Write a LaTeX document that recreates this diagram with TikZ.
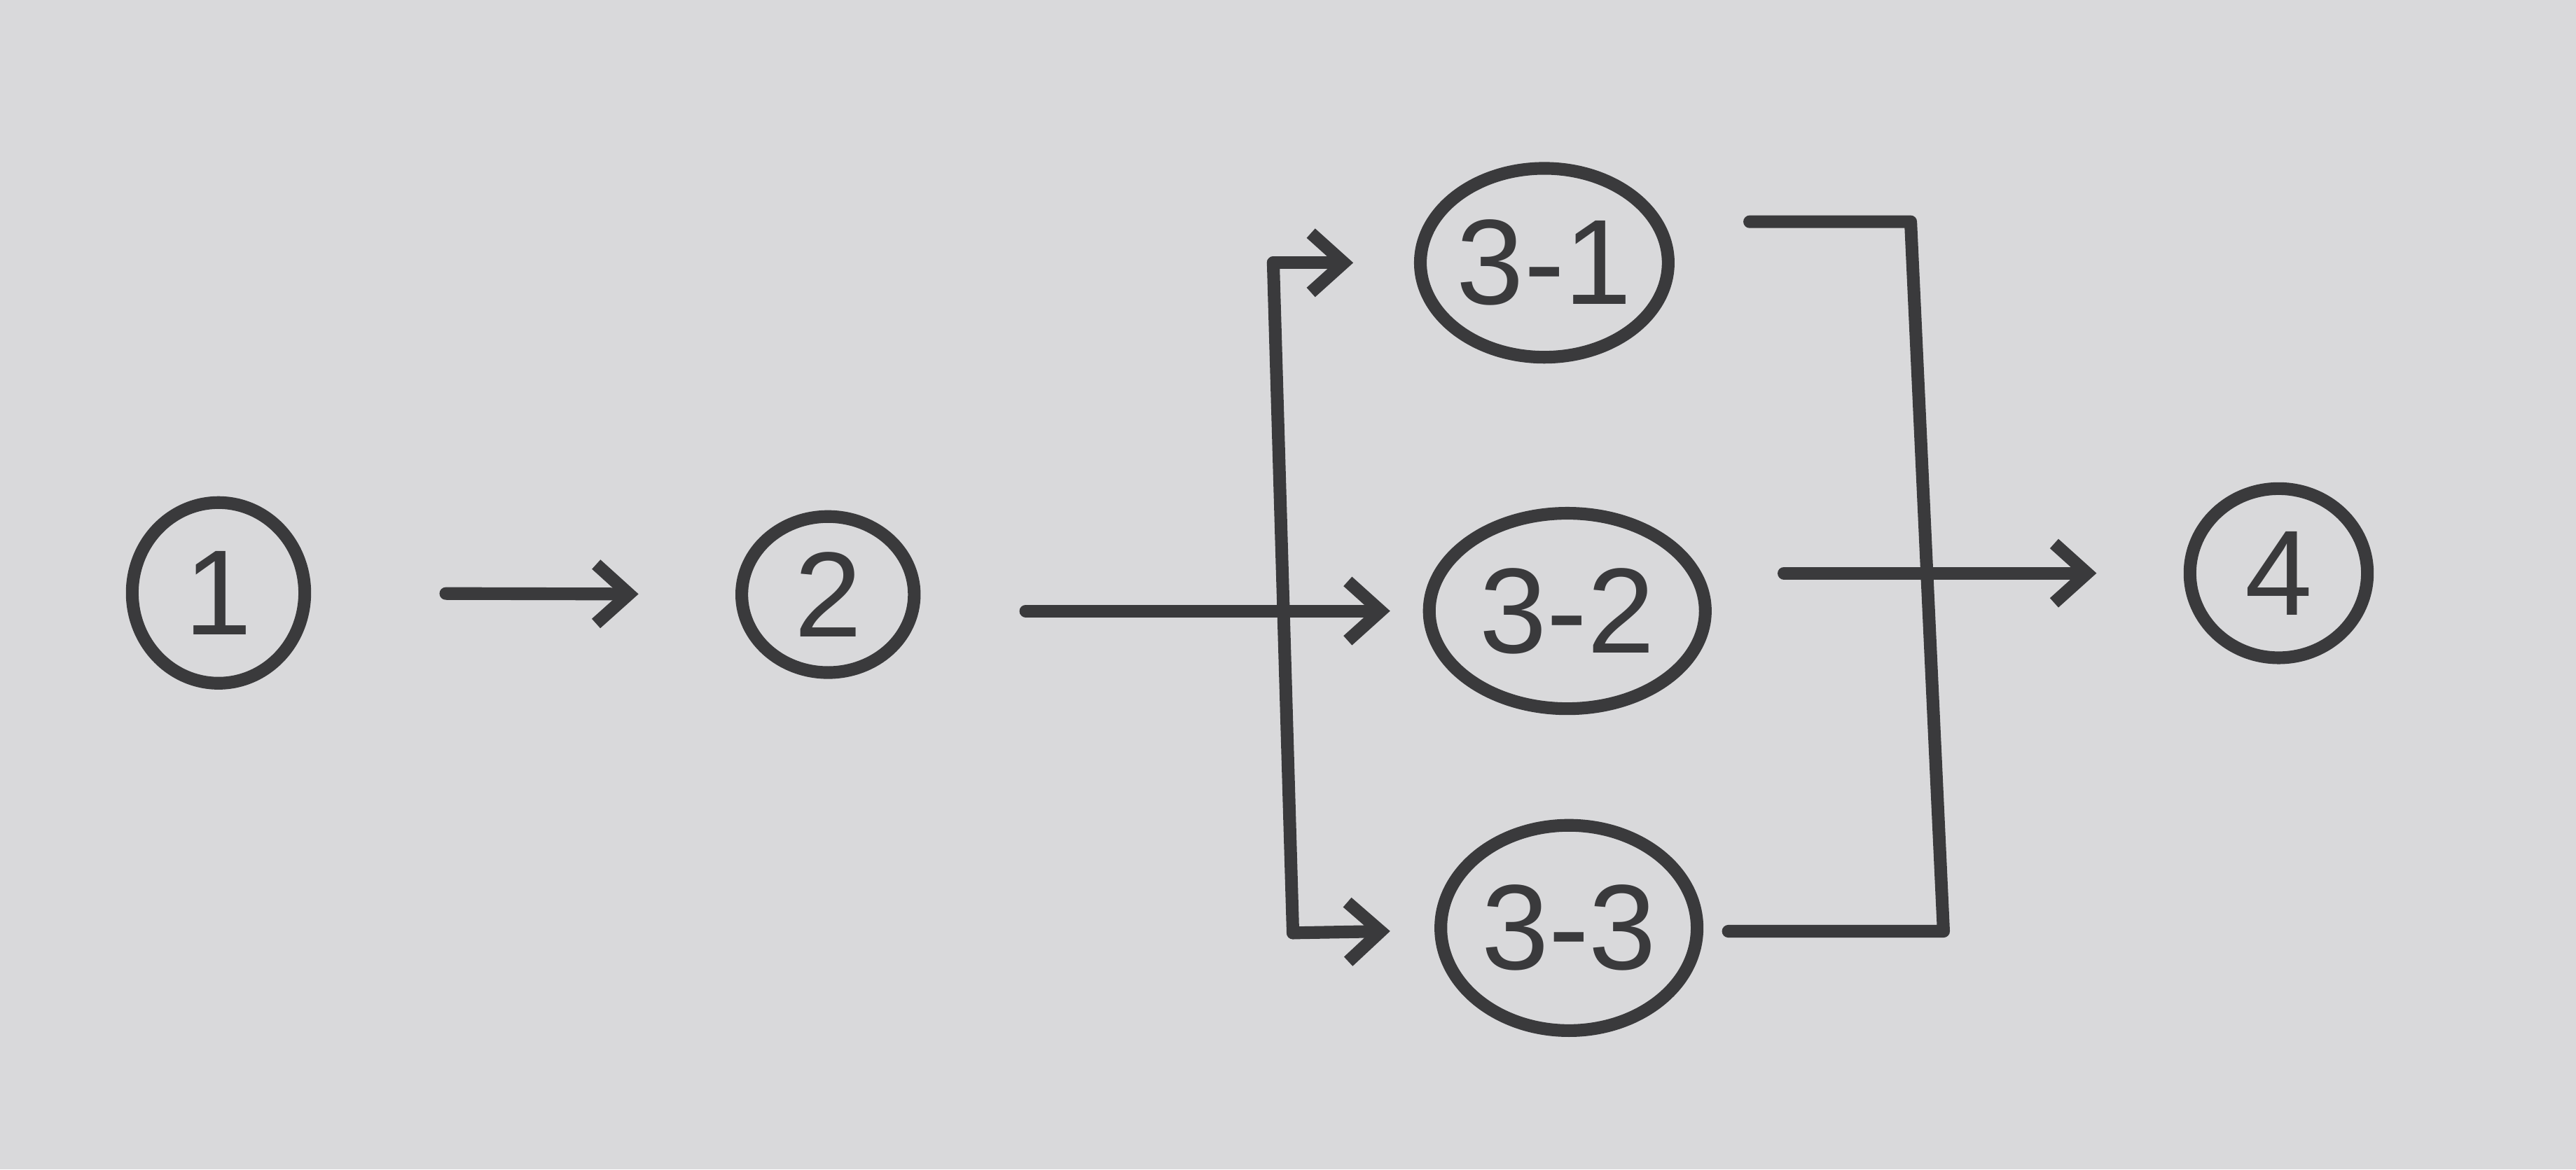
\documentclass[tikz,border=0pt]{standalone}
\usepackage{fontspec}
\setmainfont{Liberation Sans}
\usepackage{xcolor}
\usepackage{tikz}
\usetikzlibrary{calc}
\usetikzlibrary{positioning}
\usetikzlibrary{shapes.geometric}
\usetikzlibrary{arrows.meta}

\definecolor{board}{RGB}{217,217,219}
\definecolor{ink}{RGB}{58,58,60}

\begin{document}
\begin{tikzpicture}

        \def\lw{2.2pt}

        % Looks of the circled steps and of the marker lines
        \tikzset{
            stepnode/.style={ellipse, draw=ink, line width=\lw, inner sep=0pt,
                text=ink, font=\fontsize{21}{24}\selectfont},
            pen/.style={draw=ink, line width=\lw, line cap=round, line join=round},
            arr/.style={pen, -{Straight Barb[length=2mm, width=3.6mm, line width=\lw]}}
        }

        % Whiteboard
        \fill[board] (0, 0) rectangle (15.68, 7.12);
        \useasboundingbox (0, 0) rectangle (15.68, 7.12);

        % Scope used for the steps
        \begin{scope}
            \node[stepnode, minimum width=1.05cm, minimum height=1.10cm] (N1) at (1.33, 3.51) {1};
            \node[stepnode, minimum width=1.05cm, minimum height=0.95cm] (N2) at (5.04, 3.50) {2};
            \node[stepnode, minimum width=1.40cm, minimum height=1.15cm] (N31) at (9.40, 5.52) {3-1};
            \node[stepnode, minimum width=1.68cm, minimum height=1.19cm] (N32) at (9.54, 3.40) {3-2};
            \node[stepnode, minimum width=1.56cm, minimum height=1.25cm] (N33) at (9.55, 1.47) {3-3};
            \node[stepnode, minimum width=1.08cm, minimum height=1.03cm] (N4) at (13.87, 3.63) {4};

            \coordinate (S1) at (7.75, 5.52);
            \coordinate (S3) at (7.87, 1.44);
            \coordinate (J1L) at (10.65, 5.77);
            \coordinate (J1) at (11.63, 5.77);
            \coordinate (J3L) at (10.52, 1.45);
            \coordinate (J3) at (11.83, 1.45);
        \end{scope}

        \begin{scope}
            \draw[arr, shorten <=0.82cm, shorten >=0.59cm] (N1) -- (N2);
            \draw[arr, shorten <=0.64cm, shorten >=0.20cm] (N2.east |- N32) -- (N32);

            \draw[pen] (S1) -- (S3);
            \draw[arr, shorten >=0.37cm] (S1) -- (N31);
            \draw[arr, shorten >=0.27cm] (S3) -- (N33);

            \draw[pen] (J1L) -- (J1) -- (J3) -- (J3L);
            \draw[arr, shorten <=0.44cm, shorten >=0.53cm] (N32.east |- N4) -- (N4);
        \end{scope}

\end{tikzpicture}
\end{document}
